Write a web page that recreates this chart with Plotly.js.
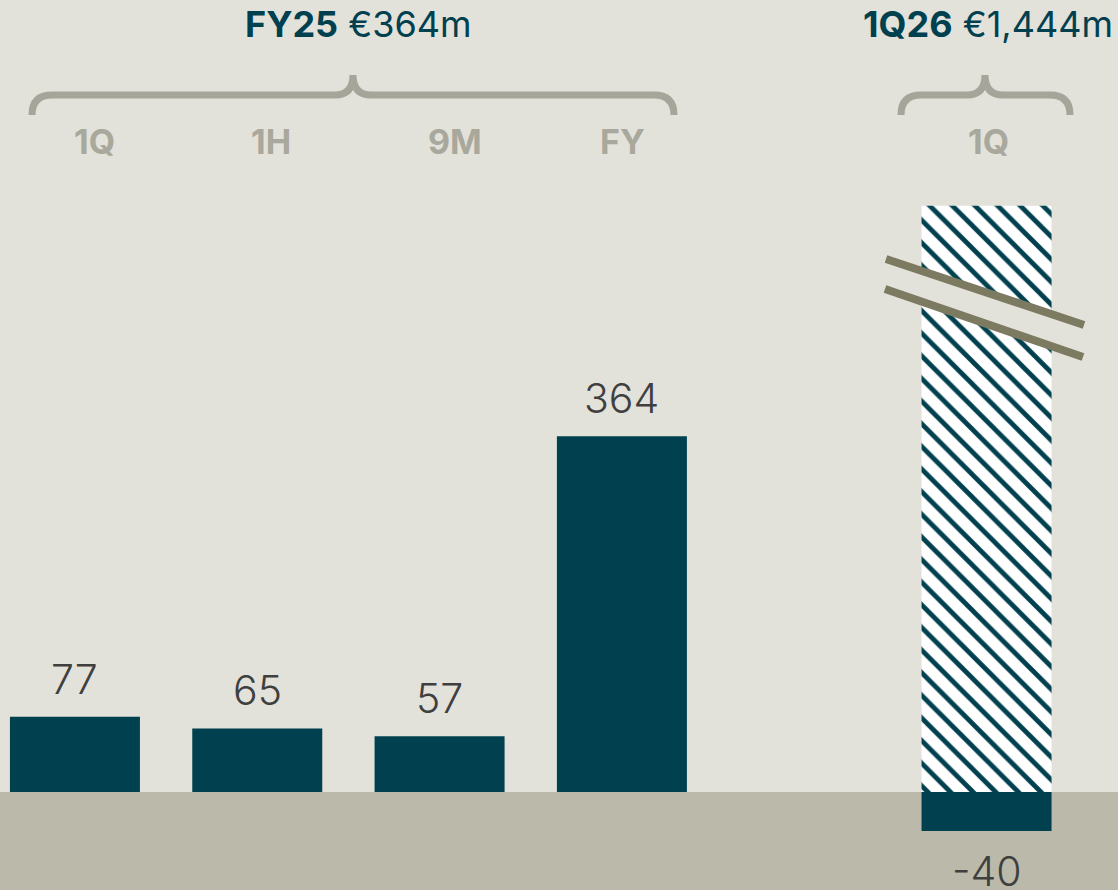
<!DOCTYPE html>
<html>
<head>
<meta charset="utf-8">
<script src="https://cdn.plot.ly/plotly-3.0.1.min.js"></script>
<style>
  html, body { margin: 0; padding: 0; background: #e2e1da; }
  #chart { width: 1118px; height: 890px; }
</style>
</head>
<body>
<div id="chart"></div>
<script>
// FY25 cumulative periods
const fy25Labels = ["1Q", "1H", "9M", "FY"];
const fy25Values = [77, 65, 57, 364];
const fy25Total = "€364m";

// 1Q26 (bar is broken, drawn capped)
const q26Labels = ["1Q"];
const q26Total = "€1,444m";
const q26Capped = [600];
const q26Negative = [-40];

const fy25X = [0, 1, 2, 3];
const q26X = [5];

const W = 1118, H = 890;
const xRange = [-0.411, 5.721];
const yRange = [-100.3, 810.6];

const teal = "#00404f";
const bg = "#e2e1da";
const band = "#bbb9aa";
const braceColor = "#a6a599";
const catColor = "#a9a89c";
const breakColor = "#7d7a62";
const valueColor = "#3f3f3f";
const font = "Inter, 'Open Sans', sans-serif";

// pixel -> data helpers for decorations
function X(px) { return xRange[0] + px / W * (xRange[1] - xRange[0]); }
function Y(py) { return yRange[1] - py / H * (yRange[1] - yRange[0]); }
function path(cmds) {
    return cmds.map(c => c[0] + c.slice(1).map((v, i) => i % 2 === 0 ? X(v) : Y(v)).reduce((a, b, i) => a + (i % 2 ? "," : " ") + b, "")).join(" ");
}

function brace(left, peak, right) {
    return path([
        ["M", left, 115], ["Q", left, 95, left + 20, 95], ["L", peak - 18, 95],
        ["Q", peak, 95, peak, 75], ["Q", peak, 95, peak + 18, 95],
        ["L", right - 20, 95], ["Q", right, 95, right, 115]
    ]);
}

const traces = [
    {
        type: "bar", x: fy25X, y: fy25Values, width: 0.713,
        marker: { color: teal, line: { width: 0 } }, hoverinfo: "none"
    },
    {
        type: "bar", x: q26X, y: q26Capped, width: 0.713,
        marker: {
            color: "#ffffff", line: { width: 0 },
            pattern: { shape: "\\", fgcolor: teal, bgcolor: "#ffffff", size: 16, solidity: 0.3 }
        },
        hoverinfo: "none"
    },
    {
        type: "bar", x: q26X, y: q26Negative, width: 0.713,
        marker: { color: teal, line: { width: 0 } }, hoverinfo: "none"
    }
];

const shapes = [
    { type: "rect", xref: "paper", x0: 0, x1: 1, yref: "y", y0: yRange[0], y1: 0,
      fillcolor: band, line: { width: 0 }, layer: "below" },
    { type: "path", path: brace(32, 353, 674), line: { color: braceColor, width: 7 } },
    { type: "path", path: brace(901, 985, 1070), line: { color: braceColor, width: 7 } },
    { type: "path", path: path([["M", 886, 259], ["L", 1084, 325], ["L", 1083, 357], ["L", 885, 289]]) + " Z",
      fillcolor: bg, line: { width: 0 } },
    { type: "line", x0: X(886), y0: Y(259), x1: X(1084), y1: Y(325), line: { color: breakColor, width: 8 } },
    { type: "line", x0: X(885), y0: Y(289), x1: X(1083), y1: Y(357), line: { color: breakColor, width: 8 } }
];

const annotations = [];
fy25Values.forEach((v, i) => annotations.push({
    x: fy25X[i], y: v, text: String(v), showarrow: false, yanchor: "bottom", yshift: 11,
    font: { family: font, size: 41, color: valueColor, weight: 300 }
}));
annotations.push({
    x: q26X[0], y: q26Negative[0], text: "-" + Math.abs(q26Negative[0]), showarrow: false,
    yanchor: "top", yshift: -13,
    font: { family: font, size: 41, color: valueColor, weight: 300 }
});

const catShift = [20, 14, 15, 1];
fy25Labels.forEach((t, i) => annotations.push({
    x: fy25X[i], xshift: catShift[i], yref: "paper", y: 1 - 141 / H, yanchor: "middle",
    text: "<b>" + t + "</b>", showarrow: false,
    font: { family: font, size: 34, color: catColor }
}));
q26Labels.forEach((t, i) => annotations.push({
    x: q26X[i], xshift: 2, yref: "paper", y: 1 - 141 / H, yanchor: "middle",
    text: "<b>" + t + "</b>", showarrow: false,
    font: { family: font, size: 34, color: catColor }
}));

annotations.push({
    x: X(358), yref: "paper", y: 1 - 24 / H, yanchor: "middle", showarrow: false,
    text: "<b>FY25</b> " + fy25Total, font: { family: font, size: 36, color: teal }
});
annotations.push({
    x: X(988), yref: "paper", y: 1 - 24 / H, yanchor: "middle", showarrow: false,
    text: "<b>1Q26</b> " + q26Total, font: { family: font, size: 36, color: teal }
});

const layout = {
    width: W, height: H,
    margin: { t: 0, r: 0, b: 0, l: 0 },
    paper_bgcolor: bg, plot_bgcolor: bg,
    barmode: "relative",
    showlegend: false,
    xaxis: { range: xRange, visible: false, fixedrange: true },
    yaxis: { range: yRange, visible: false, fixedrange: true },
    shapes, annotations
};

Plotly.newPlot("chart", traces, layout, { staticPlot: true });
</script>
</body>
</html>
